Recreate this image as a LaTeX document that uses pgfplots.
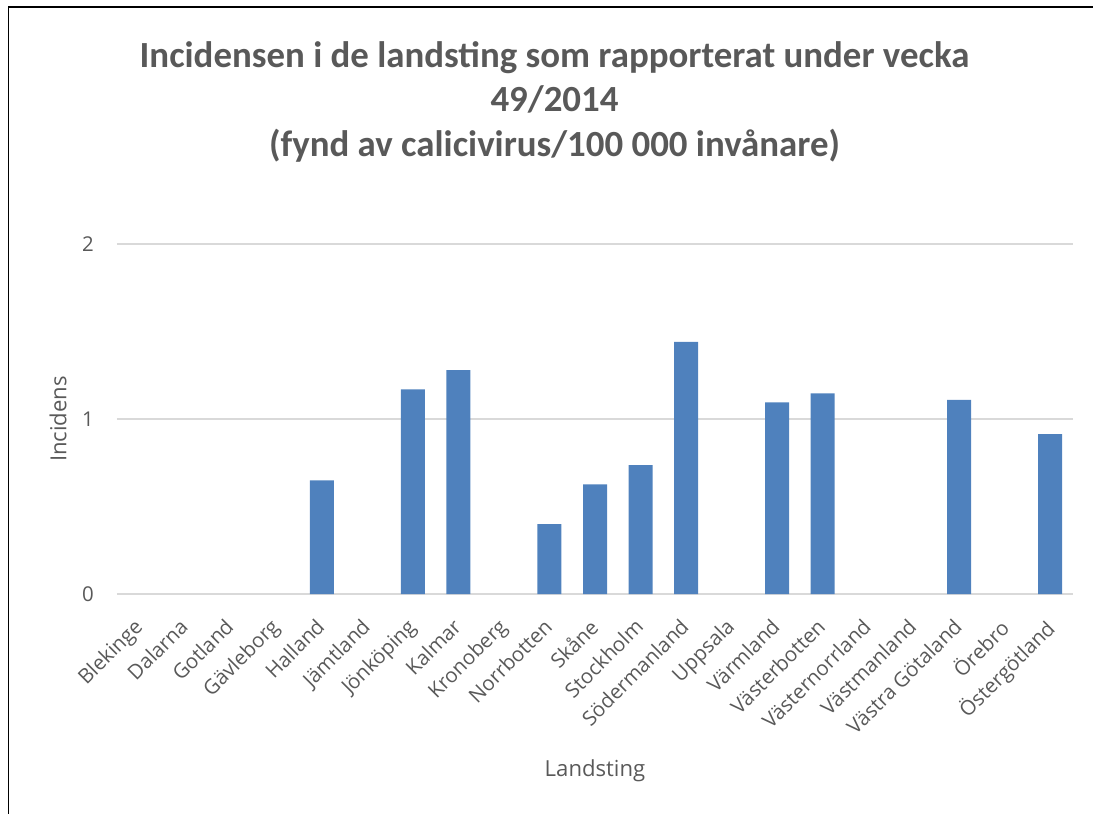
\documentclass[border=0pt]{standalone}
\usepackage{pgfplots}
\pgfplotsset{compat=1.18}
\usepackage{fontspec}
\setmainfont{Open Sans}
\newfontfamily\titlefont{Carlito}
\definecolor{barblue}{HTML}{4F81BD}
\definecolor{txtgray}{HTML}{595959}
\definecolor{gridgray}{HTML}{D9D9D9}
\begin{document}
\begin{tikzpicture}
\path[use as bounding box] (-117bp,-220bp) rectangle (976bp,594bp);
\begin{axis}[
  at={(0,0)}, anchor=south west,
  scale only axis,
  width=956bp, height=350bp,
  xmin=-0.5, xmax=20.5,
  ymin=0, ymax=2,
  ytick={0,1,2},
  xtick={0,...,20},
  xticklabels={Blekinge,Dalarna,Gotland,Gävleborg,Halland,Jämtland,Jönköping,Kalmar,Kronoberg,Norrbotten,Skåne,Stockholm,Södermanland,Uppsala,Värmland,Västerbotten,Västernorrland,Västmanland,Västra Götaland,Örebro,Östergötland},
  axis line style={draw=none},
  major tick length=0pt,
  tick style={draw=none},
  ymajorgrids,
  grid style={gridgray, line width=1.3bp},
  /pgf/number format/assume math mode=true,
  ticklabel style={text=txtgray, font=\fontsize{20.5}{24}\selectfont, inner sep=0pt},
  yticklabel style={anchor=east, xshift=-23bp},
  xticklabel style={xshift=-7bp, rotate=45, anchor=north east},
  xticklabel shift=23bp,
  ylabel={Incidens},
  xlabel={Landsting},
  label style={text=txtgray, font=\fontsize{22.2}{26}\selectfont},
  ylabel style={at={(axis description cs:-0.0617,0.5)}, anchor=center},
  xlabel style={at={(axis description cs:0.5,-0.52)}, anchor=base},
  clip=false,
]
% zero-valued categories (Blekinge, Dalarna, Gotland, Gävleborg, Jämtland, Kronoberg,
% Uppsala, Västernorrland, Västmanland, Örebro) have no visible bar
\addplot[ybar, bar width=24bp, fill=barblue, draw=none] coordinates {
(4,0.65) (6,1.17) (7,1.28) (9,0.40)
(10,0.627) (11,0.737) (12,1.44) (14,1.095) (15,1.147)
(18,1.11) (20,0.913)
};
\end{axis}
\draw[black, line width=1.6bp] (-108.5bp,-300bp) -- (-108.5bp,587bp) -- (1100bp,587bp);
\begin{scope}[every node/.style={text=txtgray, font=\titlefont\fontsize{37}{44}\selectfont\bfseries, anchor=base, inner sep=0pt}]
\node at (437.5bp,526bp) {Incidensen i de landsting som rapporterat under vecka};
\node at (437.5bp,482bp) {49/2014};
\node at (437.5bp,437.5bp) {(fynd av calicivirus/100 000 invånare)};
\end{scope}
\end{tikzpicture}
\end{document}
